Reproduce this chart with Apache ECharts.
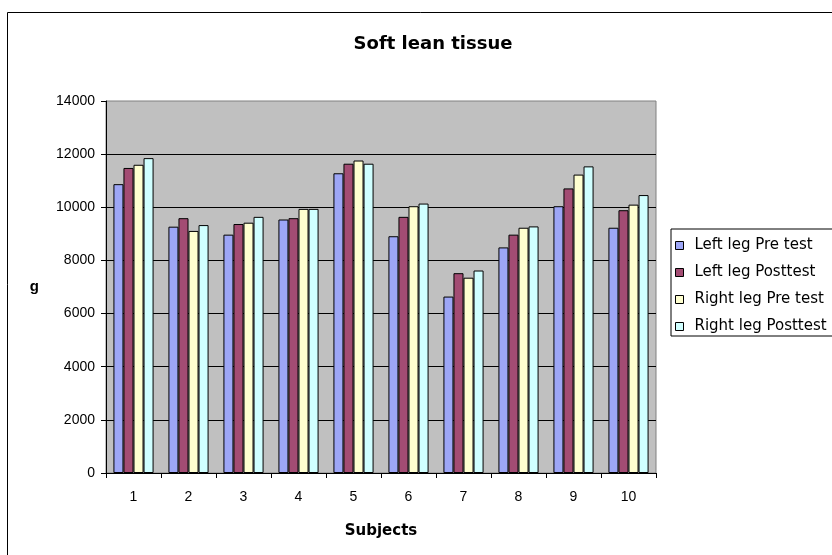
<!DOCTYPE html>
<html><head><meta charset="utf-8">
<script src="https://cdn.jsdelivr.net/npm/echarts@6/dist/echarts.min.js"></script>
<style>html,body{margin:0;padding:0;background:#fff}#c{width:832px;height:555px}</style>
</head><body><div id="c"></div>
<script>
const categories = ['1','2','3','4','5','6','7','8','9','10'];
const leftPre   = [10870, 9270, 8970, 9540, 11280, 8910, 6640, 8490, 10040, 9230];
const leftPost  = [11480, 9590, 9370, 9590, 11640, 9640, 7520, 8970, 10710, 9890];
const rightPre  = [11600, 9110, 9420, 9940, 11760, 10040, 7350, 9230, 11230, 10100];
const rightPost = [11850, 9330, 9640, 9940, 11640, 10140, 7620, 9280, 11540, 10460];
const seriesNames = ['Left leg Pre test','Left leg Posttest','Right leg Pre test','Right leg Posttest'];
const seriesColors = ['#9DA6F6','#A34C73','#FFFFD0','#D0FFFF'];
const seriesData = [leftPre, leftPost, rightPre, rightPost];

const FONT = 'Liberation Sans';
const WIDE = 'DejaVu Sans';
const chart = echarts.init(document.getElementById('c'), null, {renderer:'canvas'});
chart.setOption({
  animation: false,
  textStyle: {fontFamily: FONT},
  title: {
    text: 'Soft lean tissue', left: 428, top: 30, textAlign: 'center',
    textStyle: {fontFamily: WIDE, fontWeight: 'bold', fontSize: 18, color: '#000'}
  },
  graphic: [{
    type: 'rect', shape: {x: 7.5, y: 12.5, width: 900, height: 600},
    style: {fill: 'none', stroke: '#000', lineWidth: 1}, silent: true, z: -1
  }],
  legend: {
    orient: 'vertical', left: 671, top: 229,
    itemWidth: 8, itemHeight: 8, itemGap: 12,
    padding: [9, 40, 2, 4],
    borderColor: '#000', borderWidth: 1, backgroundColor: '#fff',
    icon: 'rect',
    textStyle: {fontFamily: WIDE, fontSize: 15, color: '#000', lineHeight: 14.5, padding: [0,0,0,6]},
    data: seriesNames.map(n => ({name: n, itemStyle: {borderColor: '#000', borderWidth: 1}}))
  },
  grid: {
    left: 106, right: 176, top: 101, bottom: 82,
    show: true, backgroundColor: '#C0C0C0', borderColor: '#808080', borderWidth: 1
  },
  xAxis: {
    type: 'category', data: categories,
    name: 'Subjects', nameLocation: 'middle', nameGap: 51,
    nameTextStyle: {fontFamily: WIDE, fontWeight: 'bold', fontSize: 15, color: '#000'},
    axisLine: {lineStyle: {color: '#000', width: 1}},
    axisTick: {show: true, length: 5, lineStyle: {color: '#000'}},
    axisLabel: {fontFamily: FONT, fontSize: 14, color: '#000', margin: 17}
  },
  yAxis: {
    type: 'value', min: 0, max: 14000, interval: 2000,
    name: 'g', nameLocation: 'middle', nameGap: 67, nameRotate: 0,
    nameTextStyle: {fontFamily: FONT, fontWeight: 'bold', fontSize: 15, color: '#000'},
    axisLine: {show: true, lineStyle: {color: '#000', width: 1}},
    axisTick: {show: true, length: 5, lineStyle: {color: '#000'}},
    axisLabel: {fontFamily: FONT, fontSize: 14, color: '#000', margin: 11, formatter: v => String(v)},
    splitLine: {show: true, showMaxLine: false, showMinLine: false, lineStyle: {color: '#000', width: 1}}
  },
  series: seriesNames.map((n, i) => ({
    name: n, type: 'bar', data: seriesData[i],
    barGap: '0%', barCategoryGap: '27%',
    itemStyle: {color: seriesColors[i], borderColor: '#000', borderWidth: 1}
  }))
});
</script></body></html>
